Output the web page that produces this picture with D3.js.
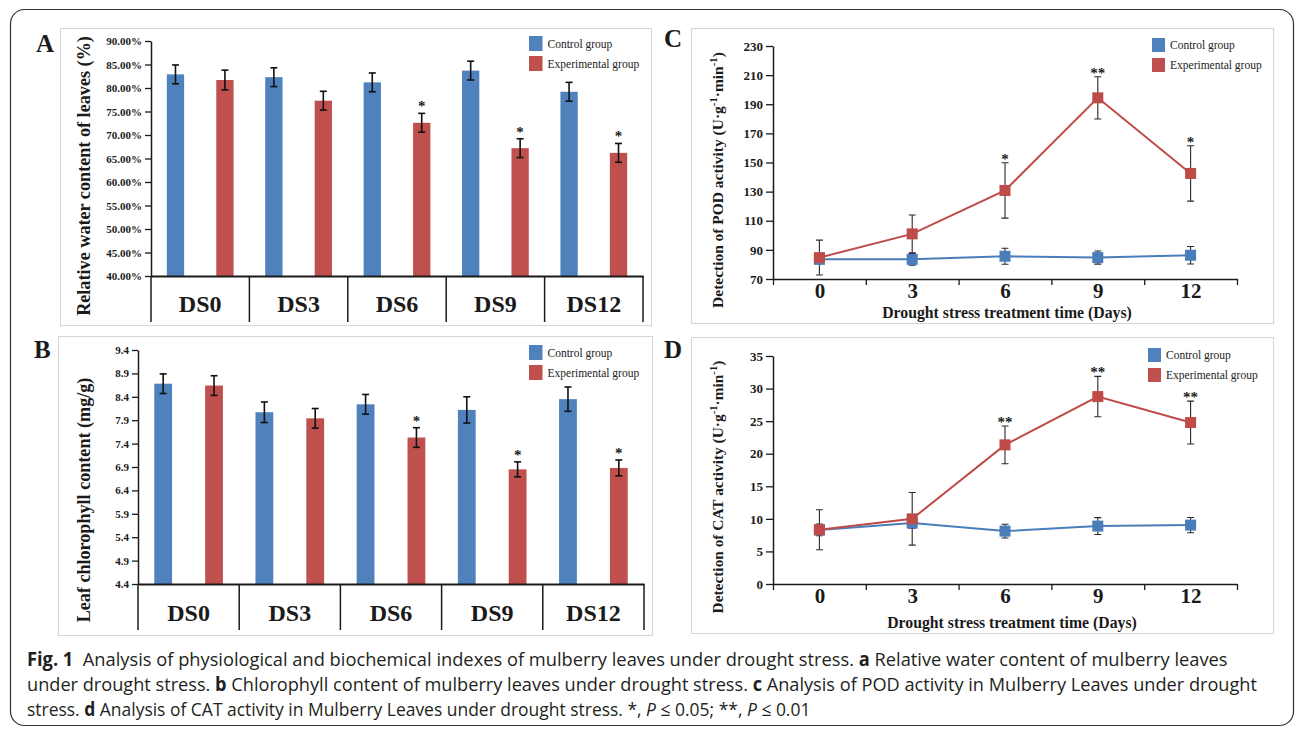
<!DOCTYPE html>
<html>
<head>
<meta charset="utf-8">
<script src="https://cdn.jsdelivr.net/npm/d3@7"></script>
<style>
  body { margin: 0; background: #fff; }
  svg { display: block; }
  text { white-space: pre; }
</style>
</head>
<body>
<main></main>
<script>
// categories
const days = ['DS0', 'DS3', 'DS6', 'DS9', 'DS12'];
const dayNumbers = [0, 3, 6, 9, 12];
const dayBoundaries = [-1.5, 1.5, 4.5, 7.5, 10.5, 13.5];
const groups = ['Control group', 'Experimental group'];

// A: relative water content (%)
const waterControl = [82.9, 82.3, 81.2, 83.7, 79.2];
const waterControlErr = [2.0, 2.0, 2.0, 2.0, 2.0];
const waterExp = [81.7, 77.3, 72.6, 67.2, 66.2];
const waterExpErr = [2.1, 2.0, 2.0, 2.0, 2.0];
const waterStars = ['', '', '*', '*', '*'];
const waterTicks = [40, 45, 50, 55, 60, 65, 70, 75, 80, 85, 90];

// B: chlorophyll content (mg/g)
const chlControl = [8.68, 8.07, 8.24, 8.12, 8.35];
const chlControlErr = [0.21, 0.22, 0.21, 0.28, 0.26];
const chlExp = [8.64, 7.94, 7.53, 6.85, 6.88];
const chlExpErr = [0.21, 0.21, 0.21, 0.16, 0.17];
const chlStars = ['', '', '*', '*', '*'];
const chlTicks = [4.4, 4.9, 5.4, 5.9, 6.4, 6.9, 7.4, 7.9, 8.4, 8.9, 9.4];

// C: POD activity
const podControl = [83.5, 83.5, 85.6, 84.7, 86.3];
const podControlErr = [3, 4, 5.5, 4.5, 6];
const podExp = [84.7, 101, 130.8, 194.4, 142.5];
const podExpErr = [12, 13, 19, 14.5, 19];
const podStars = ['', '', '*', '**', '*'];
const podTicks = [70, 90, 110, 130, 150, 170, 190, 210, 230];

// D: CAT activity
const catControl = [8.3, 9.35, 8.12, 8.89, 9.04];
const catControlErr = [0.9, 0.8, 1.05, 1.3, 1.17];
const catExp = [8.33, 10.0, 21.36, 28.77, 24.78];
const catExpErr = [3.07, 4.04, 2.9, 3.1, 3.3];
const catStars = ['', '', '**', '**', '**'];
const catTicks = [0, 5, 10, 15, 20, 25, 30, 35];

// constants
const width = 1295;
const height = 730;
const blue = '#4f81bd';
const red = '#c0504d';
const lineBlue = '#4a7ebb';
const lineRed = '#be4b48';
const serif = '"Liberation Serif", "Times New Roman", serif';
const ink = '#1a1a1a';

const svg = d3.select('main')
  .append('svg')
  .attr('width', width)
  .attr('height', height);

svg.append('rect')
  .attr('width', width)
  .attr('height', height)
  .attr('fill', '#fff');

// outer rounded frame
svg.append('rect')
  .attr('x', 10.5)
  .attr('y', 9.5)
  .attr('width', 1283)
  .attr('height', 716)
  .attr('rx', 14)
  .attr('fill', 'none')
  .attr('stroke', '#333')
  .attr('stroke-width', 1.2);


// squeeze a text horizontally so it spans the given length
function fitWidth(sel, x, y, length, rotate) {
  const natural = sel.node().getComputedTextLength();
  const k = length / natural;
  sel.attr('transform', rotate
    ? `translate(${x}, ${y}) rotate(-90) scale(${k}, 1)`
    : `translate(${x}, ${y}) scale(${k}, 1)`);
}

function panelFrame(box, letter, letterX, letterY) {
  svg.append('rect')
    .attr('x', box[0] + 0.5)
    .attr('y', box[1] + 0.5)
    .attr('width', box[2] - box[0])
    .attr('height', box[3] - box[1])
    .attr('fill', '#fff')
    .attr('stroke', '#d6d6d6');

  svg.append('text')
    .text(letter)
    .attr('x', letterX)
    .attr('y', letterY)
    .attr('font-family', serif)
    .attr('font-weight', 700)
    .attr('font-size', 25)
    .attr('fill', ink);
}

function legend(lx, ly, size, gap) {
  [blue, red].forEach((c, i) => {
    svg.append('rect')
      .attr('x', lx)
      .attr('y', ly + i * gap)
      .attr('width', size[0])
      .attr('height', size[1])
      .attr('fill', c);

    svg.append('text')
      .text(groups[i])
      .attr('x', lx + size[0] + 5)
      .attr('y', ly + i * gap + size[1] / 2 + 4)
      .attr('font-family', serif)
      .attr('font-size', 11.5)
      .attr('fill', '#222');
  });
}

function yTitle(parts, cx, cy, fontSize, length) {
  const t = svg.append('text')
    .attr('text-anchor', 'middle')
    .attr('font-family', serif)
    .attr('font-weight', 700)
    .attr('font-size', fontSize)
    .attr('fill', ink);

  parts.forEach(p => {
    const span = t.append('tspan').text(p.text);
    if (p.sup) {
      span.attr('font-size', fontSize * 0.7).attr('dy', -fontSize * 0.4);
    } else if (p.after) {
      span.attr('dy', fontSize * 0.4);
    }
  });

  fitWidth(t, cx, cy, length, true);
}

function styleAxis(g, fontSize) {
  g.selectAll('text')
    .attr('font-family', serif)
    .attr('font-weight', 700)
    .attr('font-size', fontSize)
    .attr('fill', ink);
  g.selectAll('line').attr('stroke', ink).attr('stroke-width', 1.3);
  g.select('.domain').attr('stroke', ink).attr('stroke-width', 1.5);
}


/*
  Bar panels (A and B)
*/
function barPanel(o) {
  panelFrame(o.box, o.letter, o.letterX, o.letterY);

  const x = d3.scaleBand()
    .domain(days)
    .range([o.x0, o.x1]);

  const xSub = d3.scaleBand()
    .domain(groups)
    .range([0, x.bandwidth()])
    .paddingInner(0.65)
    .paddingOuter(0.32);

  const y = d3.scaleLinear()
    .domain([o.ticks[0], o.ticks[o.ticks.length - 1]])
    .range([o.yBottom, o.yTop]);

  const rows = days.flatMap((d, i) => [
    { day: d, group: groups[0], value: o.control[i], err: o.controlErr[i], star: '', color: blue },
    { day: d, group: groups[1], value: o.exp[i], err: o.expErr[i], star: o.stars[i], color: red }
  ]);
  const cx = (r) => x(r.day) + xSub(r.group) + xSub.bandwidth() / 2;

  svg.selectAll(null)
    .data(rows)
    .enter()
    .append('rect')
    .attr('x', (r) => x(r.day) + xSub(r.group))
    .attr('y', (r) => y(r.value))
    .attr('width', xSub.bandwidth())
    .attr('height', (r) => o.yBottom - y(r.value))
    .attr('fill', (r) => r.color);

  // error bars
  const err = svg.append('g')
    .attr('stroke', '#111')
    .attr('stroke-width', 1.6);

  err.selectAll(null)
    .data(rows)
    .enter()
    .append('line')
    .attr('x1', cx)
    .attr('x2', cx)
    .attr('y1', (r) => y(r.value + r.err))
    .attr('y2', (r) => y(r.value - r.err));

  [1, -1].forEach(sign => {
    err.selectAll(null)
      .data(rows)
      .enter()
      .append('line')
      .attr('x1', (r) => cx(r) - 3.5)
      .attr('x2', (r) => cx(r) + 3.5)
      .attr('y1', (r) => y(r.value + sign * r.err))
      .attr('y2', (r) => y(r.value + sign * r.err));
  });

  svg.selectAll(null)
    .data(rows.filter(r => r.star))
    .enter()
    .append('text')
    .text((r) => r.star)
    .attr('x', cx)
    .attr('y', (r) => y(r.value + r.err) - 2)
    .attr('text-anchor', 'middle')
    .attr('font-family', serif)
    .attr('font-weight', 700)
    .attr('font-size', 15)
    .attr('fill', ink);

  // y axis
  const yAxis = d3.axisLeft(y)
    .tickValues(o.ticks)
    .tickFormat(o.format)
    .tickSize(6)
    .tickSizeOuter(0)
    .tickPadding(3);

  const gy = svg.append('g')
    .attr('transform', `translate(${o.x0}, 0)`)
    .call(yAxis);
  styleAxis(gy, 11);

  // x axis with category dividers
  const xAxis = d3.axisBottom(x)
    .tickSize(0)
    .tickPadding(o.labelPad);

  const gx = svg.append('g')
    .attr('transform', `translate(0, ${o.yBottom})`)
    .call(xAxis);
  styleAxis(gx, 24);
  gx.select('.domain').attr('stroke-width', 2.2);

  svg.selectAll(null)
    .data(days.map(d => x(d)).concat([o.x1]))
    .enter()
    .append('line')
    .attr('x1', (d) => d)
    .attr('x2', (d) => d)
    .attr('y1', o.yBottom)
    .attr('y2', o.dividerBottom)
    .attr('stroke', ink)
    .attr('stroke-width', 1.5);

  yTitle([{ text: o.title }], o.titleX, o.titleY, 18, o.titleLength);
  legend(o.legendX, o.legendY, [13.5, 15], 20);
}


/*
  Line panels (C and D)
*/
function linePanel(o) {
  panelFrame(o.box, o.letter, o.letterX, o.letterY);

  const x = d3.scaleLinear()
    .domain([dayBoundaries[0], dayBoundaries[dayBoundaries.length - 1]])
    .range([o.x0, o.x1]);

  const y = d3.scaleLinear()
    .domain([o.ticks[0], o.ticks[o.ticks.length - 1]])
    .range([o.yBottom, o.yTop]);

  const series = [
    { color: lineBlue, points: dayNumbers.map((d, i) => ({ day: d, value: o.control[i], err: o.controlErr[i], star: '' })) },
    { color: lineRed, points: dayNumbers.map((d, i) => ({ day: d, value: o.exp[i], err: o.expErr[i], star: o.stars[i] })) }
  ];

  // x axis: ticks between the days, labels on the days
  const gx = svg.append('g')
    .attr('transform', `translate(0, ${o.yBottom})`)
    .call(d3.axisBottom(x).tickValues(dayBoundaries).tickFormat('').tickSize(6).tickSizeOuter(0));
  styleAxis(gx, 21);

  const gl = svg.append('g')
    .attr('transform', `translate(0, ${o.yBottom})`)
    .call(d3.axisBottom(x).tickValues(dayNumbers).tickSize(0).tickPadding(4));
  gl.select('.domain').remove();
  styleAxis(gl, 21);

  const gy = svg.append('g')
    .attr('transform', `translate(${o.x0}, 0)`)
    .call(d3.axisLeft(y).tickValues(o.ticks).tickSize(7).tickSizeOuter(0).tickPadding(3));
  styleAxis(gy, 13);

  const line = d3.line()
    .x((p) => x(p.day))
    .y((p) => y(p.value));

  series.forEach(s => {
    const err = svg.append('g')
      .attr('stroke', '#2a2a2a')
      .attr('stroke-width', 1.1);

    err.selectAll(null)
      .data(s.points)
      .enter()
      .append('path')
      .attr('fill', 'none')
      .attr('d', (p) => {
        const px = x(p.day);
        const top = y(p.value + p.err);
        const bottom = y(p.value - p.err);
        return `M${px - 3.5},${top}H${px + 3.5}M${px},${top}V${bottom}M${px - 3.5},${bottom}H${px + 3.5}`;
      });
  });

  series.forEach(s => {
    svg.append('path')
      .datum(s.points)
      .attr('d', line)
      .attr('fill', 'none')
      .attr('stroke', s.color)
      .attr('stroke-width', 2);

    svg.selectAll(null)
      .data(s.points)
      .enter()
      .append('rect')
      .attr('x', (p) => x(p.day) - 5.5)
      .attr('y', (p) => y(p.value) - 5.5)
      .attr('width', 11)
      .attr('height', 11)
      .attr('fill', s.color);

    svg.selectAll(null)
      .data(s.points.filter(p => p.star))
      .enter()
      .append('text')
      .text((p) => p.star)
      .attr('x', (p) => x(p.day))
      .attr('y', (p) => y(p.value + p.err) + 1)
      .attr('text-anchor', 'middle')
      .attr('font-family', serif)
      .attr('font-weight', 700)
      .attr('font-size', 15)
      .attr('fill', ink);
  });

  const xt = svg.append('text')
    .text('Drought stress treatment time (Days)')
    .attr('text-anchor', 'middle')
    .attr('font-family', serif)
    .attr('font-weight', 700)
    .attr('font-size', 16)
    .attr('fill', ink);
  fitWidth(xt, o.xTitleX, o.xTitleY, 250, false);

  yTitle([
    { text: `Detection of ${o.enzyme} activity (U·g` },
    { text: '-1', sup: true },
    { text: '·min', after: true },
    { text: '-1', sup: true },
    { text: ')', after: true }
  ], o.titleX, o.titleY, 15.5, o.titleLength);

  legend(o.legendX, o.legendY, [13, 14], 20);
}


barPanel({
  box: [60, 28, 651, 325], letter: 'A', letterX: 36, letterY: 52,
  x0: 151, x1: 643, yTop: 41, yBottom: 276, dividerBottom: 322, labelPad: 19,
  ticks: waterTicks, format: (d) => d.toFixed(2) + '%',
  control: waterControl, controlErr: waterControlErr, exp: waterExp, expErr: waterExpErr, stars: waterStars,
  title: 'Relative water content of leaves (%)', titleX: 90, titleY: 176, titleLength: 280,
  legendX: 529, legendY: 36
});

barPanel({
  box: [58, 336, 652, 635], letter: 'B', letterX: 34, letterY: 358,
  x0: 138, x1: 644, yTop: 350, yBottom: 584, dividerBottom: 630, labelPad: 20,
  ticks: chlTicks, format: d3.format('.1f'),
  control: chlControl, controlErr: chlControlErr, exp: chlExp, expErr: chlExpErr, stars: chlStars,
  title: 'Leaf chlorophyll content (mg/g)', titleX: 90, titleY: 500, titleLength: 245,
  legendX: 529, legendY: 345
});

linePanel({
  box: [691, 28, 1273, 323], letter: 'C', letterX: 664, letterY: 47,
  x0: 773, x1: 1237, yTop: 46, yBottom: 279,
  ticks: podTicks, control: podControl, controlErr: podControlErr, exp: podExp, expErr: podExpErr, stars: podStars,
  enzyme: 'POD', titleX: 723, titleY: 180, titleLength: 256,
  xTitleX: 1007, xTitleY: 318,
  legendX: 1152, legendY: 38
});

linePanel({
  box: [691, 337, 1273, 633], letter: 'D', letterX: 664, letterY: 358,
  x0: 773, x1: 1237, yTop: 356, yBottom: 584,
  ticks: catTicks, control: catControl, controlErr: catControlErr, exp: catExp, expErr: catExpErr, stars: catStars,
  enzyme: 'CAT', titleX: 723, titleY: 487, titleLength: 253,
  xTitleX: 1012, xTitleY: 628,
  legendX: 1148, legendY: 348
});


/*
  Figure caption
*/
const captionLines = [
  [['Fig. 1', 'b'], ['  Analysis of physiological and biochemical indexes of mulberry leaves under drought stress. ', 'r'], ['a', 'b'], [' Relative water content of mulberry leaves', 'r']],
  [['under drought stress. ', 'r'], ['b', 'b'], [' Chlorophyll content of mulberry leaves under drought stress. ', 'r'], ['c', 'b'], [' Analysis of POD activity in Mulberry Leaves under drought', 'r']],
  [['stress. ', 'r'], ['d', 'b'], [' Analysis of CAT activity in Mulberry Leaves under drought stress. *, ', 'r'], ['P', 'i'], [' ≤ 0.05; **, ', 'r'], ['P', 'i'], [' ≤ 0.01', 'r']]
];
const captionLengths = [1202, 1231, 784];

captionLines.forEach((parts, i) => {
  const t = svg.append('text')
    .attr('font-family', '"Open Sans", "Noto Sans", sans-serif')
    .attr('font-size', 19)
    .attr('fill', '#231f20');

  parts.forEach(p => {
    t.append('tspan')
      .text(p[0])
      .attr('font-weight', p[1] === 'b' ? 700 : 400)
      .attr('font-style', p[1] === 'i' ? 'italic' : 'normal');
  });

  fitWidth(t, 27, 666 + i * 25, captionLengths[i], false);
});
</script>
</body>
</html>
